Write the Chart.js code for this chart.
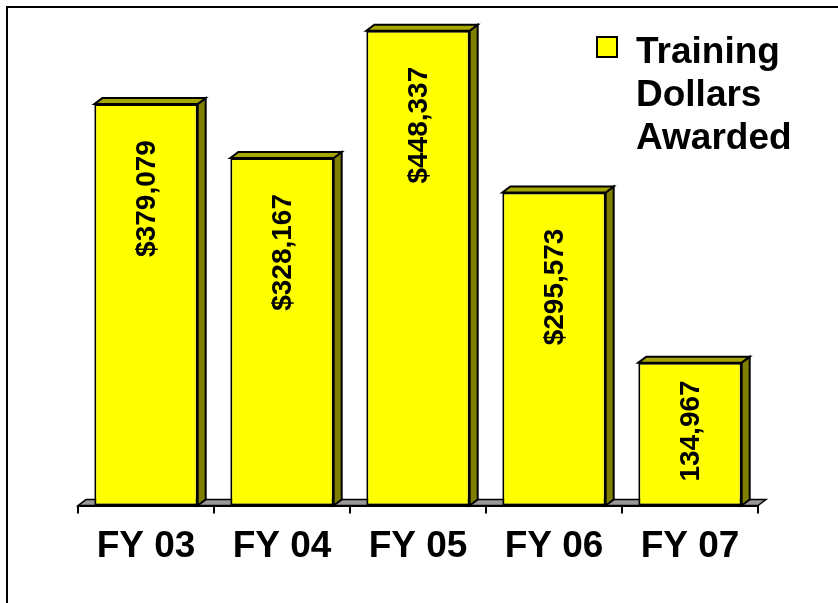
<!DOCTYPE html>
<html>
<head>
<meta charset="utf-8">
<script src="https://cdn.jsdelivr.net/npm/chart.js@4"></script>
<style>
  html, body { margin: 0; padding: 0; background: #fff; }
  #wrap { position: relative; width: 838px; height: 603px; }
</style>
</head>
<body>
<div id="wrap"><canvas id="chart-1" width="838" height="603"></canvas></div>
<script>
const ctx1 = document.getElementById('chart-1');

// data
var years = ['FY 03', 'FY 04', 'FY 05', 'FY 06', 'FY 07'];
var dollars = [379079, 328167, 448337, 295573, 134967];
var valueLabels = ['$379,079', '$328,167', '$448,337', '$295,573', '134,967'];
var seriesName = 'Training Dollars Awarded';

var DX = 8, DY = 6;
var FONT = '"Liberation Sans", Arial, sans-serif';

// page frame (only top and left edges show)
var framePlugin = {
    id: 'frame',
    beforeDraw: function (chart) {
        var c = chart.ctx;
        c.save();
        c.strokeStyle = '#000';
        c.lineWidth = 2;
        c.beginPath();
        c.moveTo(7, chart.height + 5);
        c.lineTo(7, 7);
        c.lineTo(chart.width + 5, 7);
        c.stroke();
        c.restore();
    }
};

// grey floor under the bars
var floorPlugin = {
    id: 'floor',
    beforeDatasetsDraw: function (chart) {
        var c = chart.ctx, a = chart.chartArea;
        var b = chart.scales.y.getPixelForValue(0);
        c.save();
        c.fillStyle = '#999999';
        c.strokeStyle = '#000';
        c.lineWidth = 1.5;
        c.beginPath();
        c.moveTo(a.left, b);
        c.lineTo(a.left + DX, b - DY);
        c.lineTo(a.right + DX, b - DY);
        c.lineTo(a.right, b);
        c.closePath();
        c.fill();
        c.stroke();
        c.restore();
    }
};

// 3D top and side faces plus the rotated value labels
var boxPlugin = {
    id: 'box3d',
    afterDatasetsDraw: function (chart) {
        var c = chart.ctx;
        var meta = chart.getDatasetMeta(0);
        c.save();
        c.strokeStyle = '#000';
        c.lineWidth = 2;
        c.lineJoin = 'miter';
        meta.data.forEach(function (bar, i) {
            var p = bar.getProps(['x', 'y', 'base', 'width'], true);
            var l = p.x - p.width / 2, r = p.x + p.width / 2;
            var t = p.y, b = p.base;
            // side
            c.fillStyle = '#808000';
            c.beginPath();
            c.moveTo(r, t);
            c.lineTo(r + DX, t - DY);
            c.lineTo(r + DX, b - DY);
            c.lineTo(r, b);
            c.closePath();
            c.fill();
            c.stroke();
            // top
            c.fillStyle = '#a6a600';
            c.beginPath();
            c.moveTo(l, t);
            c.lineTo(l + DX, t - DY);
            c.lineTo(r + DX, t - DY);
            c.lineTo(r, t);
            c.closePath();
            c.fill();
            c.stroke();

            // value label
            c.font = 'bold 28px ' + FONT;
            var w = c.measureText(valueLabels[i]).width;
            var start = t + 36;
            if (start + w > b - 24) start = b - 24 - w;
            c.save();
            c.translate(p.x + 1, start);
            c.rotate(-Math.PI / 2);
            c.fillStyle = '#000';
            c.textAlign = 'right';
            c.textBaseline = 'middle';
            c.fillText(valueLabels[i], 0, 0);
            c.restore();
        });
        c.restore();
    }
};

// legend in three lines
var legendPlugin = {
    id: 'legendBox',
    afterDraw: function (chart) {
        var c = chart.ctx;
        c.save();
        c.fillStyle = '#FFFF00';
        c.strokeStyle = '#000';
        c.lineWidth = 2;
        c.fillRect(597, 37, 20, 20);
        c.strokeRect(597, 37, 20, 20);
        c.fillStyle = '#000';
        c.font = 'bold 37px ' + FONT;
        c.textAlign = 'left';
        c.textBaseline = 'alphabetic';
        seriesName.split(' ').forEach(function (word, k) {
            c.fillText(word, 636, 63 + k * 43);
        });
        c.restore();
    }
};

new Chart(ctx1, {
    type: 'bar',
    data: {
        labels: years,
        datasets: [{
            label: seriesName,
            data: dollars,
            backgroundColor: '#FFFF00',
            borderColor: '#000',
            borderWidth: 2,
            borderSkipped: false,
            barPercentage: 0.76,
            categoryPercentage: 1
        }]
    },
    options: {
        responsive: false,
        animation: false,
        layout: {
            padding: { left: 78, right: 80, top: 29, bottom: 23 }
        },
        plugins: {
            legend: { display: false },
            title: { display: false },
            tooltip: { enabled: false }
        },
        scales: {
            x: {
                grid: {
                    display: true,
                    drawOnChartArea: false,
                    drawTicks: true,
                    tickLength: 8,
                    color: '#000',
                    lineWidth: 2
                },
                border: { display: true, color: '#000', width: 2 },
                ticks: {
                    color: '#000',
                    padding: 11,
                    font: { family: FONT, size: 37, weight: 'bold' }
                }
            },
            y: {
                display: false,
                min: 0,
                max: 450000
            }
        }
    },
    plugins: [framePlugin, floorPlugin, boxPlugin, legendPlugin]
});
</script>
</body>
</html>
